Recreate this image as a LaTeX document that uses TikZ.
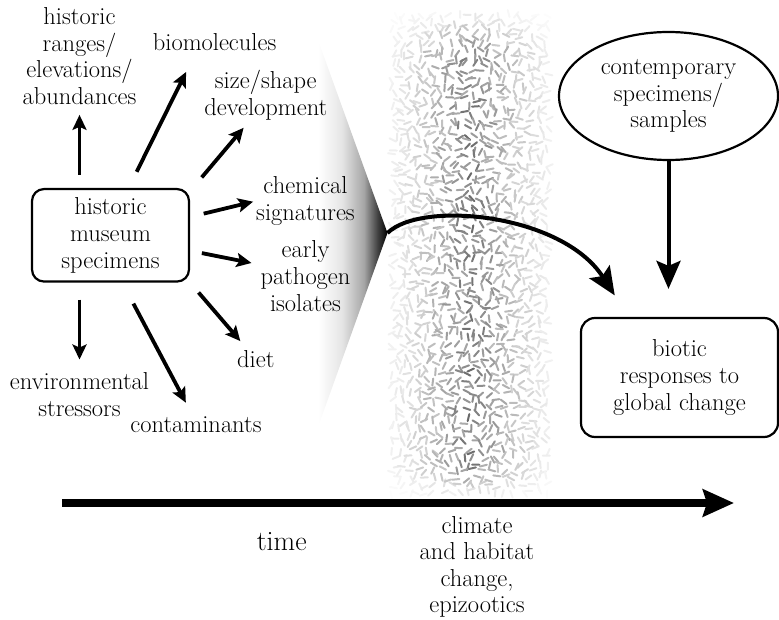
\documentclass[tikz,border=0pt]{standalone}
\usetikzlibrary{arrows.meta, shapes.geometric}
\newcommand\lblfont{\fontsize{24.5pt}{26.7pt}\selectfont}
\pgfdeclarehorizontalshading{conefade}{100bp}{color(0bp)=(white); color(25bp)=(white); color(42bp)=(black!10); color(58bp)=(black!35); color(68bp)=(black!75); color(75bp)=(black); color(100bp)=(black)}

\begin{document}
\begin{tikzpicture}[x=1pt, y=-1pt,
  box/.style={draw, line width=2.2pt, rounded corners=12pt, align=center, font=\lblfont, inner sep=0pt},
  lbl/.style={align=center, font=\lblfont, inner sep=0pt},
  arr/.style={-{Stealth[length=15pt, width=14pt, inset=3pt]}, line width=3.8pt},
  bigarr/.style={-{Stealth[length=28pt, width=24pt, inset=5pt]}, line width=4pt},
  grain/.style={line width=2pt, line cap=round}]
\useasboundingbox (0,0) rectangle (779,620);

% cone and band of change
\coordinate (conetop) at (318,40);
\coordinate (apex) at (387.5,233);
\coordinate (conebot) at (318,427);
\shade[shading=conefade] (conetop) -- (apex) -- (conebot) -- cycle;
\pgfmathsetseed{11}
\foreach \i in {0,...,19}{
  \foreach \j in {0,...,68}{
    \pgfmathsetmacro\gx{394+8*\i+3.5*rand}
    \pgfmathsetmacro\gy{16+7*\j+3*rand}
    \pgfmathsetmacro\ga{180*rnd}
    \pgfmathsetmacro\gk{(4+44*max(0,1-abs(\gx-471)/84)^1.2*(0.7+0.6*rnd))*min(1,(\gy-8)/45,(500-\gy)/35)}
    \draw[grain, black!\gk] (\gx,\gy) ++(\ga:3.6) -- ++(\ga+180:7.2);
  }
}

% historic side
\node[box, minimum width=157pt, minimum height=92.5pt] (hms) at (110.5,235.3) {historic\\ museum\\ specimens};
\node[lbl] (ranges) at (79.5,56) {historic\\ ranges/\\ elevations/\\ abundances};
\node[lbl] (biomol) at (214.6,42) {biomolecules};
\node[lbl] (size) at (265.8,95) {size/shape\\ development};
\node[lbl] (chem) at (305.5,201) {chemical\\ signatures};
\node[lbl] (patho) at (305.5,276) {early\\ pathogen\\ isolates};
\node[lbl] (diet) at (255.8,359) {diet};
\node[lbl] (contam) at (196,425) {contaminants};
\node[lbl] (envstr) at (79.5,394.5) {environmental\\ stressors};

\draw[arr, shorten <=13pt, shorten >=10pt] (hms.north -| ranges.south) -- (ranges.south);
\draw[arr, shorten <=18pt, shorten >=23.6pt] (hms.69) -- (biomol.206);
\draw[arr, shorten <=18pt, shorten >=10pt] (hms.29) -- (size.238);
\draw[arr, shorten <=14pt, shorten >=3pt] (hms.13) -- (chem.180);
\draw[arr, shorten <=12pt, shorten >=9pt] (hms.349) -- (patho.166);
\draw[arr, shorten <=13pt, shorten >=12pt] (hms.south east) -- (diet.131);
\draw[arr, shorten <=23.7pt, shorten >=16pt] (hms.284) -- (contam.108);
\draw[arr, shorten <=17pt, shorten >=12.8pt] (hms.south -| envstr.north) -- (envstr.north);

% contemporary side
\node[draw, ellipse, lbl, line width=2.2pt, minimum width=219pt, minimum height=128pt] (cont) at (668.5,96) {contemporary\\ specimens/\\ samples};
\node[box, rounded corners=14pt, minimum width=197pt, minimum height=119pt] (biotic) at (679.5,377.5) {biotic\\ responses to\\ global change};
\draw[bigarr, shorten >=28pt] (cont.south) -- (cont.south |- biotic.north);
\draw[bigarr, shorten >=25.6pt] (apex) .. controls (421,200) and (561.9,213.5) .. (biotic.130);

% time axis
\coordinate (tstart) at (62,503);
\coordinate (tend) at (734,503);
\draw[line width=8.5pt, -{Stealth[length=31pt, width=27pt, inset=4pt]}] (tstart) -- (tend);
\node[lbl, font=\fontsize{28pt}{32pt}\selectfont] (time) at (281.7,542) {time};
\node[lbl, font=\fontsize{24.5pt}{26.3pt}\selectfont] (climate) at (477,567) {climate\\ and habitat\\ change,\\ epizootics};
\end{tikzpicture}
\end{document}
